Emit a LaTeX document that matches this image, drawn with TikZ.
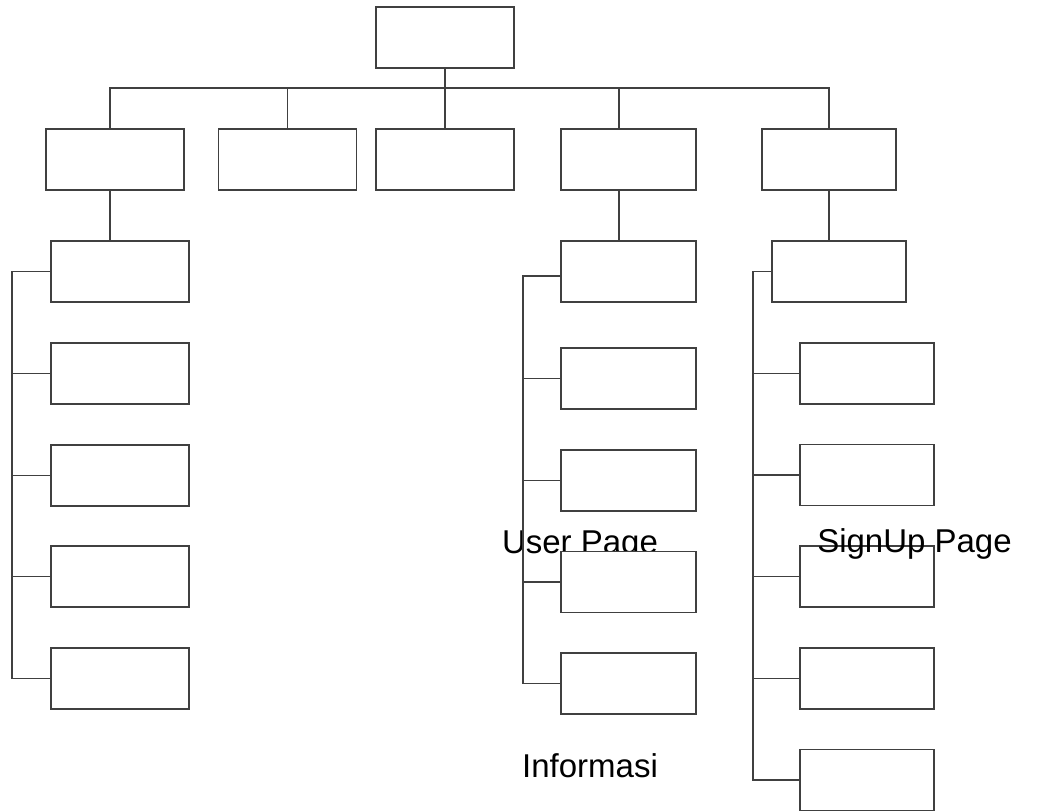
\documentclass[tikz,border=0pt]{standalone}
\usepackage{fontspec}
\setmainfont{Liberation Sans}
\usepackage{tikz}
\usetikzlibrary{calc}
\usetikzlibrary{positioning}

\tikzset{
  box/.style={draw=black!75, fill=white, line width=1.4pt, minimum width=138pt, minimum height=61pt, inner sep=0pt},
  sbox/.style={box, minimum width=134pt},
  link/.style={draw=black!75, line width=1.4pt},
  label/.style={font=\fontsize{33}{40}\selectfont, inner sep=0pt, anchor=base}
}

\begin{document}
\begin{tikzpicture}[x=1pt, y=-1pt]
    \useasboundingbox (0,0) rectangle (1039,811);
    \node[label] (user) at (580,553) {User Page};
    % top and first level
    \node[box] (root) at (445,37.5) {};
    \node[box] (b1) at (115,159.5) {};
    \node[box] (b2) at (287.5,159.5) {};
    \node[box] (b3) at (445,159.5) {};
    \node[box, minimum width=135pt] (b4) at (628.5,159.5) {};
    \node[sbox] (b5) at (829,159.5) {};
    % left column
    \node[box] (l1) at (120,271.5) {};
    \node[box] (l2) at (120,373.5) {};
    \node[box] (l3) at (120,475.5) {};
    \node[box] (l4) at (120,576.5) {};
    \node[box] (l5) at (120,678.5) {};
    % user column
    \node[box, minimum width=135pt] (u1) at (628.5,271.5) {};
    \node[box, minimum width=135pt] (u2) at (628.5,378.5) {};
    \node[box, minimum width=135pt] (u3) at (628.5,480.5) {};
    \node[box, minimum width=135pt] (u4) at (628.5,582) {};
    \node[box, minimum width=135pt] (u5) at (628.5,683.5) {};
    % signup column
    \node[sbox] (s1) at (839,271.5) {};
    \node[sbox] (s2) at (867,373.5) {};
    \node[sbox] (s3) at (867,475) {};
    \node[sbox] (s4) at (867,576.5) {};
    \node[sbox] (s5) at (867,678.5) {};
    \node[sbox] (s6) at (867,780) {};
    \node[label] (signup) at (914.5,552) {SignUp Page};
    \node[label] (info) at (590,777) {Informasi};
    % connectors
    \coordinate (bus) at (445,88);
    \coordinate (d1) at (110,88);
    \coordinate (d4) at (619,88);
    \coordinate (spL) at (12,0);
    \coordinate (spU) at (523,0);
    \coordinate (spS) at (753,0);
    \draw[link] (root.south) -- (bus);
    \draw[link] (d1 |- b1.north) -- (d1) -- (b5.north |- bus) -- (b5.north);
    \draw[link] (b2.north |- bus) -- (b2.north);
    \draw[link] (bus) -- (b3.north);
    \draw[link] (d4) -- (d4 |- b4.north);
    \draw[link] (d1 |- b1.south) -- (d1 |- l1.north);
    \draw[link] (d4 |- b4.south) -- (d4 |- u1.north);
    \draw[link] (b5.south) -- (b5.south |- s1.north);
    \draw[link] (l1.west) -- (l1.west -| spL) -- (l5.west -| spL) -- (l5.west);
    \draw[link] ([yshift=-4.5pt]u1.west) -- ([yshift=-4.5pt]u1.west -| spU) -- (u5.west -| spU) -- (u5.west);
    \draw[link] (s1.west) -- (s1.west -| spS) -- (s6.west -| spS) -- (s6.west);
    \foreach \i in {2,3,4} {
      \draw[link] (l\i.west) -- (l\i.west -| spL);
      \draw[link] (u\i.west) -- (u\i.west -| spU);
    }
    \foreach \i in {2,...,5}
      \draw[link] (s\i.west) -- (s\i.west -| spS);
\end{tikzpicture}
\end{document}
